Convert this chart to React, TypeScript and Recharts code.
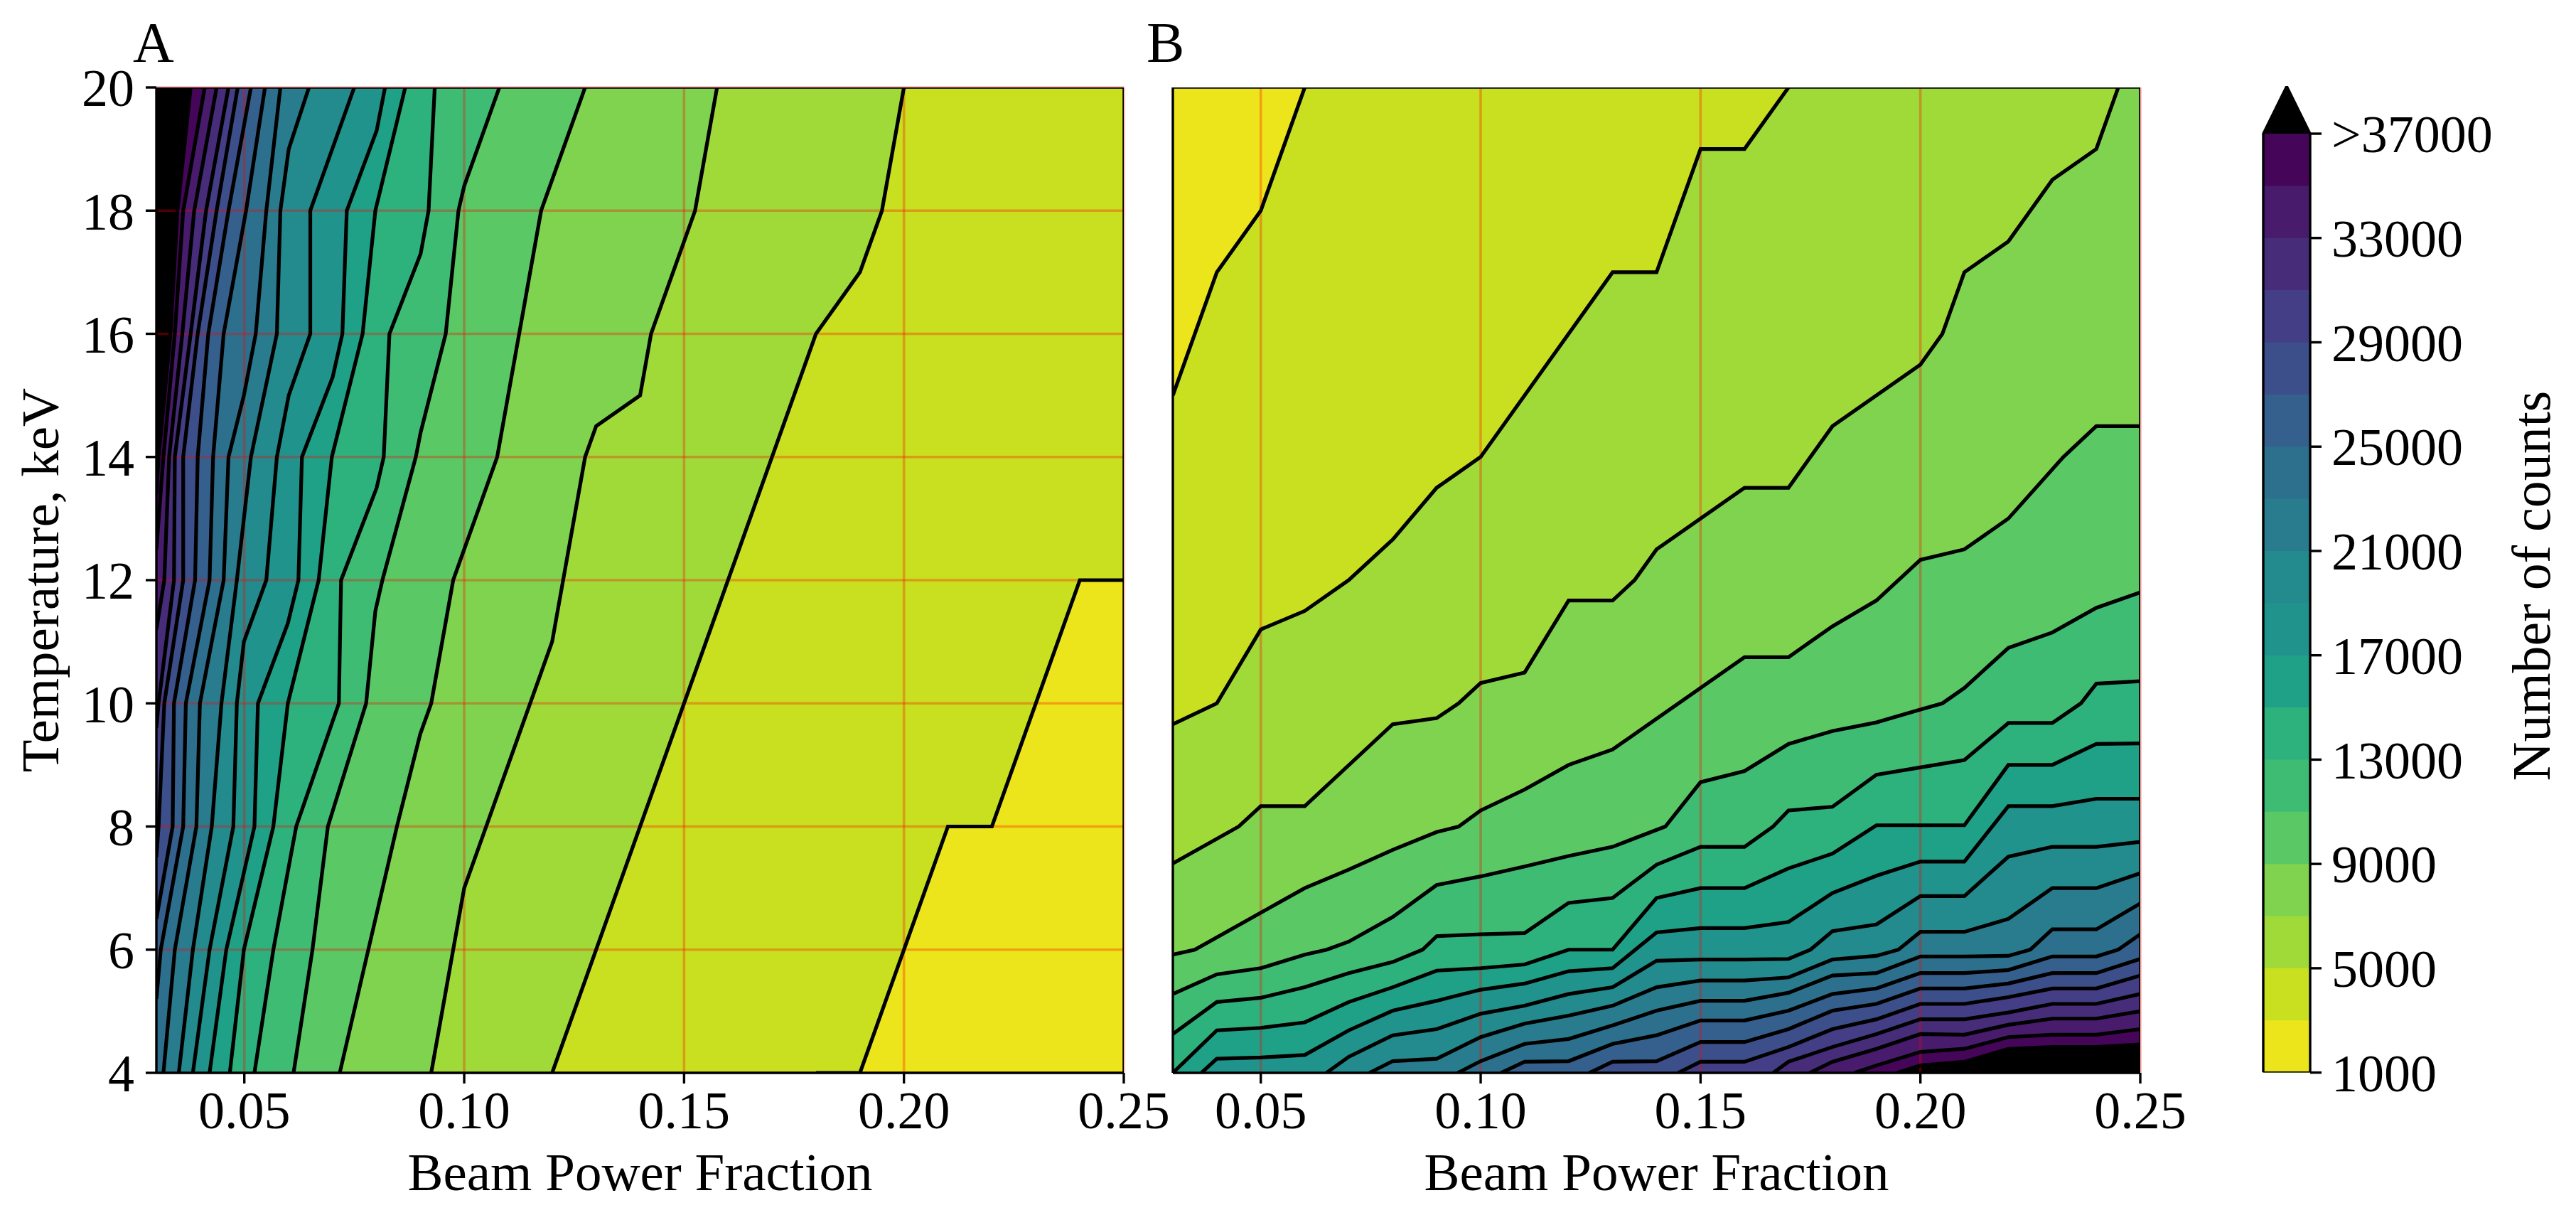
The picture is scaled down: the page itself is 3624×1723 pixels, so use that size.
import React from "react";
import { ComposedChart, Area, Line, XAxis, YAxis, CartesianGrid } from "recharts";

const FONT = "'Liberation Serif', 'Times New Roman', serif";

// Colour of each 2000-count band, from 1000-3000 up to 35000-37000, then the >37000 colour
const bandColors = [
  "#ece51b", "#c8e020", "#a0da39", "#7fd34e", "#5ac864", "#3fbc73", "#2db27d", "#1fa187", "#20938c",
  "#238a8d", "#297b8e", "#2d708e", "#355f8d", "#3c4f8a", "#433e85", "#472c7a", "#481b6d", "#450559",
];
const overColor = "#000000";

const xTicks = [0.05, 0.1, 0.15, 0.2, 0.25];
const yTicks = [4, 6, 8, 10, 12, 14, 16, 18, 20];
const colorbarTicks = [1000, 5000, 9000, 13000, 17000, 21000, 25000, 29000, 33000, 37000];
const bandTops = [3000, 5000, 7000, 9000, 11000, 13000, 15000, 17000, 19000, 21000, 23000, 25000, 27000, 29000, 31000, 33000, 35000, 37000];

// Panel A contour lines: [beam power fraction, temperature]; the level rises by 2000 from 3000 to 37000
const contoursA: number[][][] = [
  [[0.18, 4], [0.19, 4], [0.21, 8], [0.22, 8], [0.24, 12], [0.25, 12]],
  [[0.12, 4], [0.18, 16], [0.19, 17], [0.195, 18], [0.2, 20]],
  [[0.0925, 4], [0.1, 7], [0.12, 11], [0.1275, 14], [0.13, 14.5], [0.14, 15], [0.1425, 16], [0.1525, 18], [0.1575, 20]],
  [[0.0717, 4], [0.0782, 6], [0.0847, 8], [0.09, 9.5], [0.0925, 10], [0.0975, 12], [0.1075, 14], [0.1175, 18], [0.1275, 20]],
  [[0.0612, 4], [0.0655, 6], [0.069, 8], [0.0777, 10], [0.0798, 11.5], [0.0814, 12], [0.089, 14], [0.0901, 14.4], [0.0958, 16], [0.0987, 18], [0.1, 18.4], [0.108, 20]],
  [[0.0523, 4], [0.0566, 6], [0.0618, 8], [0.0715, 10], [0.072, 12], [0.0801, 13.5], [0.0817, 14], [0.083, 16], [0.0901, 17.3], [0.0919, 18], [0.0933, 20]],
  [[0.0467, 4], [0.0499, 6], [0.0566, 8], [0.0599, 10], [0.0669, 12], [0.0699, 14], [0.0769, 16], [0.0798, 18], [0.0866, 20]],
  [[0.0421, 4], [0.0459, 6], [0.0523, 8], [0.0531, 10], [0.0599, 11.3], [0.0623, 12], [0.0631, 14], [0.0701, 15.3], [0.0723, 16], [0.0733, 18], [0.0801, 19.3], [0.082, 20]],
  [[0.0383, 4], [0.0421, 6], [0.0475, 8], [0.0483, 10], [0.0499, 11], [0.055, 12], [0.0574, 14], [0.0601, 15], [0.065, 16], [0.065, 18], [0.075, 20]],
  [[0.0351, 4], [0.0383, 6], [0.0426, 8], [0.0448, 10], [0.0483, 12], [0.0499, 13], [0.0515, 14], [0.0574, 16], [0.0582, 18], [0.0601, 19], [0.0647, 20]],
  [[0.0316, 4], [0.0342, 6], [0.0391, 8], [0.0399, 10], [0.0453, 12], [0.0464, 14], [0.0499, 15], [0.0526, 16], [0.055, 18], [0.0582, 20]],
  [[0.03, 5.2], [0.031, 6], [0.0361, 8], [0.0367, 10], [0.0421, 12], [0.0429, 14], [0.0453, 16], [0.0504, 18], [0.0547, 20]],
  [[0.03, 6.5], [0.0337, 8], [0.034, 10], [0.0388, 12], [0.0394, 14], [0.0418, 16], [0.0464, 18], [0.0515, 20]],
  [[0.03, 7.5], [0.0305, 8], [0.0318, 10], [0.0361, 12], [0.0361, 14], [0.0394, 16], [0.0437, 18], [0.0485, 20]],
  [[0.03, 9.6], [0.0305, 10], [0.034, 12], [0.0342, 14], [0.0378, 16], [0.0413, 18], [0.0464, 20]],
  [[0.03, 11.2], [0.0318, 12], [0.0329, 14], [0.0359, 16], [0.0386, 18], [0.0437, 20]],
  [[0.03, 12.5], [0.0316, 14], [0.0342, 16], [0.0361, 18], [0.041, 20]],
  [[0.03, 13.4], [0.0305, 14], [0.0332, 16], [0.0348, 18], [0.0378, 20]],
];

// Panel B contour lines, same levels
const contoursB: number[][][] = [
  [[0.03, 15], [0.04, 17], [0.05, 18], [0.06, 20]],
  [[0.03, 9.66], [0.04, 10], [0.05, 11.2], [0.06, 11.5], [0.07, 12], [0.08, 12.66], [0.09, 13.5], [0.1, 14], [0.13, 17], [0.14, 17], [0.15, 19], [0.16, 19], [0.17, 20]],
  [[0.03, 7.4], [0.045, 8], [0.05, 8.33], [0.06, 8.33], [0.08, 9.66], [0.09, 9.76], [0.095, 10], [0.1, 10.33], [0.11, 10.5], [0.12, 11.67], [0.13, 11.67], [0.135, 12], [0.14, 12.5], [0.15, 13], [0.16, 13.5], [0.17, 13.5], [0.18, 14.5], [0.2, 15.5], [0.205, 16], [0.21, 17], [0.22, 17.5], [0.23, 18.5], [0.24, 19], [0.245, 20]],
  [[0.03, 5.92], [0.035, 6], [0.05, 6.6], [0.06, 7], [0.07, 7.3], [0.08, 7.62], [0.09, 7.91], [0.095, 8], [0.1, 8.26], [0.11, 8.6], [0.12, 9], [0.13, 9.25], [0.15, 10.25], [0.16, 10.75], [0.17, 10.75], [0.18, 11.25], [0.19, 11.67], [0.2, 12.33], [0.21, 12.5], [0.22, 13], [0.2325, 14], [0.24, 14.5], [0.25, 14.5]],
  [[0.03, 5.28], [0.04, 5.6], [0.05, 5.7], [0.06, 5.92], [0.065, 6], [0.07, 6.13], [0.08, 6.53], [0.09, 7.05], [0.1, 7.19], [0.11, 7.35], [0.12, 7.52], [0.13, 7.67], [0.142, 8], [0.15, 8.72], [0.16, 8.9], [0.17, 9.34], [0.18, 9.55], [0.19, 9.69], [0.2, 9.9], [0.205, 10], [0.21, 10.25], [0.22, 10.9], [0.23, 11.15], [0.24, 11.55], [0.25, 11.8]],
  [[0.03, 4.63], [0.04, 5.15], [0.05, 5.22], [0.06, 5.39], [0.07, 5.62], [0.08, 5.8], [0.0868, 6], [0.09, 6.22], [0.1, 6.25], [0.11, 6.27], [0.12, 6.76], [0.13, 6.84], [0.14, 7.38], [0.15, 7.67], [0.16, 7.67], [0.1665, 8], [0.17, 8.26], [0.18, 8.32], [0.19, 8.84], [0.2, 8.96], [0.21, 9.08], [0.22, 9.68], [0.23, 9.68], [0.2365, 10], [0.24, 10.32], [0.25, 10.36]],
  [[0.03, 4], [0.04, 4.69], [0.05, 4.73], [0.06, 4.82], [0.07, 5.15], [0.08, 5.39], [0.09, 5.66], [0.1, 5.7], [0.11, 5.76], [0.12, 6], [0.13, 6], [0.14, 6.84], [0.15, 7], [0.16, 7], [0.17, 7.32], [0.18, 7.56], [0.19, 8.02], [0.2, 8.02], [0.21, 8.02], [0.22, 9], [0.23, 9], [0.24, 9.34], [0.25, 9.35]],
  [[0.0365, 4], [0.04, 4.23], [0.05, 4.25], [0.06, 4.29], [0.07, 4.69], [0.08, 5.01], [0.09, 5.17], [0.1, 5.35], [0.11, 5.45], [0.12, 5.65], [0.13, 5.7], [0.14, 6.28], [0.15, 6.35], [0.16, 6.35], [0.17, 6.45], [0.18, 6.92], [0.19, 7.2], [0.2, 7.43], [0.21, 7.43], [0.22, 8.33], [0.23, 8.33], [0.24, 8.45], [0.25, 8.45]],
  [[0.0649, 4], [0.07, 4.26], [0.08, 4.61], [0.09, 4.71], [0.1, 4.96], [0.11, 5.09], [0.12, 5.28], [0.13, 5.39], [0.14, 5.82], [0.15, 5.84], [0.16, 5.84], [0.17, 5.85], [0.175, 6], [0.18, 6.3], [0.19, 6.41], [0.2, 6.87], [0.21, 6.87], [0.22, 7.51], [0.23, 7.67], [0.24, 7.67], [0.25, 7.75]],
  [[0.0747, 4], [0.08, 4.19], [0.09, 4.23], [0.1, 4.58], [0.11, 4.8], [0.12, 4.93], [0.13, 5.09], [0.14, 5.39], [0.15, 5.5], [0.16, 5.5], [0.17, 5.55], [0.18, 5.84], [0.19, 5.9], [0.195, 6], [0.2, 6.29], [0.21, 6.29], [0.22, 6.5], [0.23, 7], [0.24, 7], [0.25, 7.24]],
  [[0.0948, 4], [0.1, 4.19], [0.11, 4.47], [0.12, 4.55], [0.13, 4.77], [0.14, 5.01], [0.15, 5.17], [0.16, 5.17], [0.17, 5.3], [0.18, 5.58], [0.19, 5.62], [0.2, 5.89], [0.21, 5.89], [0.22, 5.9], [0.225, 6], [0.23, 6.33], [0.24, 6.33], [0.25, 6.75]],
  [[0.1046, 4], [0.11, 4.18], [0.12, 4.19], [0.13, 4.47], [0.14, 4.61], [0.15, 4.85], [0.16, 4.85], [0.17, 5.01], [0.18, 5.28], [0.19, 5.37], [0.2, 5.62], [0.21, 5.62], [0.22, 5.67], [0.23, 5.89], [0.24, 5.89], [0.245, 6], [0.25, 6.25]],
  [[0.1247, 4], [0.13, 4.18], [0.14, 4.19], [0.15, 4.5], [0.16, 4.5], [0.17, 4.71], [0.18, 5.01], [0.19, 5.12], [0.2, 5.37], [0.21, 5.37], [0.22, 5.45], [0.23, 5.62], [0.24, 5.62], [0.25, 5.85]],
  [[0.1449, 4], [0.15, 4.18], [0.16, 4.18], [0.17, 4.42], [0.18, 4.71], [0.19, 4.87], [0.2, 5.12], [0.21, 5.12], [0.22, 5.23], [0.23, 5.37], [0.24, 5.37], [0.25, 5.58]],
  [[0.1665, 4], [0.17, 4.18], [0.18, 4.42], [0.19, 4.63], [0.2, 4.87], [0.21, 4.87], [0.22, 4.98], [0.23, 5.12], [0.24, 5.12], [0.25, 5.28]],
  [[0.1748, 4], [0.18, 4.18], [0.19, 4.39], [0.2, 4.63], [0.21, 4.62], [0.22, 4.78], [0.23, 4.88], [0.24, 4.88], [0.25, 5]],
  [[0.185, 4], [0.19, 4.12], [0.2, 4.34], [0.21, 4.39], [0.22, 4.58], [0.23, 4.62], [0.24, 4.62], [0.25, 4.71]],
  [[0.1947, 4], [0.2, 4.12], [0.21, 4.18], [0.22, 4.39], [0.23, 4.42], [0.24, 4.42], [0.25, 4.46]],
];

const X_MIN = 0.03;
const X_MAX = 0.25;
const T_MIN = 4;
const T_MAX = 20;
const CB_TOP = 38827;

const toRows = (pts: number[][]) => pts.map(([x, T]) => ({ x, T }));
const fillColor = (i: number) => (i + 1 < bandColors.length ? bandColors[i + 1] : overColor);

const tickStyle = { fontFamily: FONT, fontSize: 74, fill: "#000" };
const labelStyle = { fontFamily: FONT, fontSize: 75, fill: "#000" };
const AXIS = { stroke: "#000", strokeWidth: 3.4 };
const GRID = "#ff0000";

function Panel({ contours, side, left, width, yWidth }: any) {
  const plotW = 1361;
  return (
    <div style={{ position: "absolute", left, top: 0 }}>
      <ComposedChart
        width={width}
        height={1723}
        margin={{ left: 0, top: 123, right: width - yWidth - plotW, bottom: 0 }}
      >
        <XAxis
          dataKey="x"
          type="number"
          domain={[X_MIN, X_MAX]}
          ticks={xTicks}
          interval={0}
          allowDataOverflow
          height={214}
          tickSize={15}
          tickMargin={10}
          tick={tickStyle}
          tickLine={AXIS}
          axisLine={AXIS}
          tickFormatter={(v: number) => v.toFixed(2)}
          label={{ value: "Beam Power Fraction", position: "insideBottom", offset: 49, style: labelStyle }}
        />
        <YAxis
          type="number"
          domain={[T_MIN, T_MAX]}
          ticks={yTicks}
          interval={0}
          allowDataOverflow
          width={yWidth}
          tickSize={15}
          tickMargin={16}
          tick={side === "A" ? tickStyle : false}
          tickLine={AXIS}
          axisLine={AXIS}
          label={
            side === "A"
              ? { value: "Temperature, keV", angle: -90, position: "insideLeft", offset: 55, style: { ...labelStyle, textAnchor: "middle" } }
              : undefined
          }
        />

        <Area
          data={toRows([[X_MIN, T_MAX], [X_MAX, T_MAX]])}
          dataKey="T"
          baseValue={T_MIN}
          type="linear"
          stroke="none"
          fill={bandColors[0]}
          fillOpacity={1}
          isAnimationActive={false}
          dot={false}
          activeDot={false}
        />
        {contours.map((pts: number[][], i: number) => {
          const rows =
            side === "A"
              ? pts[0][0] > X_MIN
                ? [[X_MIN, T_MIN], ...pts]
                : pts
              : pts[pts.length - 1][0] < X_MAX
              ? [...pts, [X_MAX, T_MAX]]
              : pts;
          return (
            <Area
              key={"fill" + i}
              data={toRows(rows)}
              dataKey="T"
              baseValue={side === "A" ? T_MAX : T_MIN}
              type="linear"
              stroke="none"
              fill={fillColor(i)}
              fillOpacity={1}
              isAnimationActive={false}
              dot={false}
              activeDot={false}
            />
          );
        })}
        <CartesianGrid stroke={GRID} strokeOpacity={0.3} strokeWidth={3.6} verticalValues={xTicks} horizontalValues={yTicks} syncWithTicks={false} zIndex={150} />
        {contours.map((pts: number[][], i: number) => (
          <Line
            key={"line" + i}
            data={toRows(pts)}
            dataKey="T"
            type="linear"
            stroke="#000"
            strokeWidth={5.2}
            strokeLinejoin="miter"
            dot={false}
            activeDot={false}
            isAnimationActive={false}
          />
        ))}
        <Line
          data={toRows([[X_MIN, T_MAX], [X_MAX, T_MAX], [X_MAX, T_MIN]])}
          dataKey="T"
          type="linear"
          stroke="#000"
          strokeWidth={3.4}
          dot={false}
          activeDot={false}
          isAnimationActive={false}
        />
      </ComposedChart>
    </div>
  );
}

const CountsLabel = () => (
  <text
    x={487}
    y={824}
    transform="rotate(-90 487 824)"
    textAnchor="middle"
    style={{ fontFamily: FONT, fontSize: 76, fill: "#000" }}
  >
    Number of counts
  </text>
);

function Colorbar() {
  const left = 3100;
  const width = 524;
  const outline = [
    [0, 1000],
    [0, 37000],
    [0.5, CB_TOP],
    [1, 37000],
    [1, 1000],
    [0, 1000],
  ].map(([x, v]) => ({ x, v }));
  return (
    <div style={{ position: "absolute", left, top: 0 }}>
      <ComposedChart width={width} height={1723} margin={{ left: 84, top: 121, right: 0, bottom: 214.4 }}>
        <XAxis dataKey="x" type="number" domain={[0, 1]} hide />
        <YAxis
          orientation="right"
          type="number"
          domain={[1000, CB_TOP]}
          ticks={colorbarTicks}
          interval={0}
          allowDataOverflow
          width={width - 84 - 66}
          tickSize={16}
          tickMargin={14}
          tick={tickStyle}
          tickLine={AXIS}
          axisLine={false}
          tickFormatter={(v: number) => (v === 37000 ? ">37000" : String(v))}
          label={{ content: CountsLabel }}
        />
        <Area
          data={[{ x: 0, v: 37000 }, { x: 0.5, v: CB_TOP }, { x: 1, v: 37000 }]}
          dataKey="v"
          baseValue={37000}
          type="linear"
          stroke="none"
          fill={overColor}
          fillOpacity={1}
          isAnimationActive={false}
          dot={false}
          activeDot={false}
        />
        {bandTops
          .map((top, i) => ({ top, i }))
          .reverse()
          .map(({ top, i }) => (
            <Area
              key={"band" + i}
              data={[{ x: 0, v: top }, { x: 1, v: top }]}
              dataKey="v"
              baseValue={1000}
              type="linear"
              stroke="none"
              fill={bandColors[i]}
              fillOpacity={1}
              isAnimationActive={false}
              dot={false}
              activeDot={false}
            />
          ))}
        <Line data={outline} dataKey="v" type="linear" stroke="#000" strokeWidth={3.4} dot={false} activeDot={false} isAnimationActive={false} />
      </ComposedChart>
    </div>
  );
}

const letter = (text: string, left: number) => (
  <div style={{ position: "absolute", left, top: 14, fontFamily: FONT, fontSize: 80, lineHeight: "92px", color: "#000" }}>{text}</div>
);

export default function App() {
  return (
    <div style={{ position: "absolute", left: 0, top: 0, width: 3624, height: 1723, background: "#fff", overflow: "hidden" }}>
      <Panel contours={contoursA} side="A" left={0} width={1660} yWidth={220} />
      <Panel contours={contoursB} side="B" left={1619.6} width={1480} yWidth={30} />
      <Colorbar />
      {letter("A", 187)}
      {letter("B", 1613)}
    </div>
  );
}
